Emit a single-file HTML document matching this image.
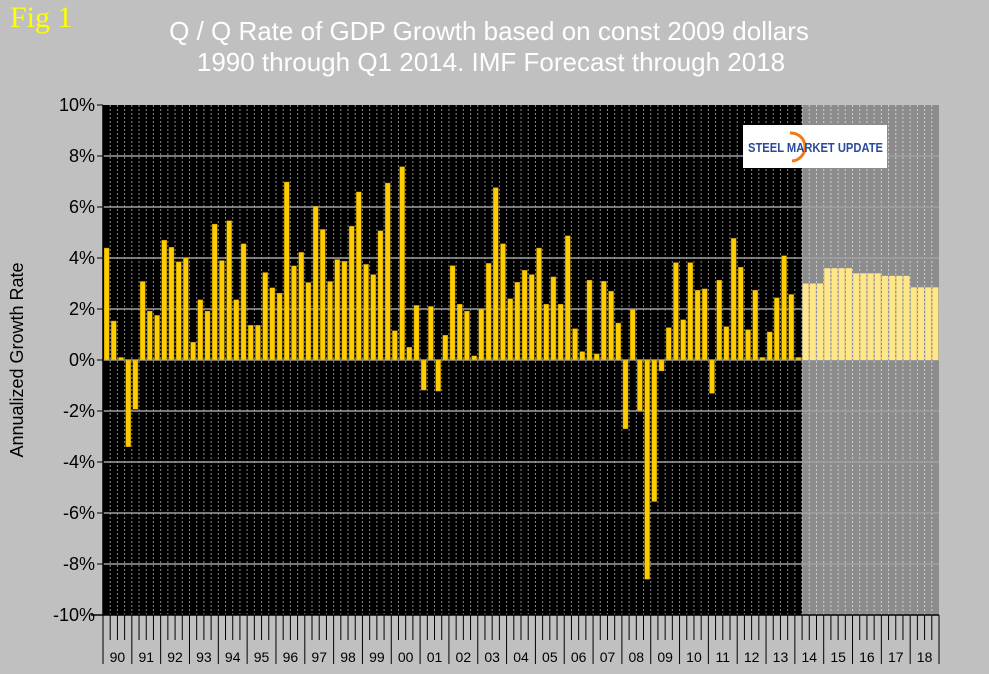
<!DOCTYPE html>
<html><head><meta charset="utf-8"><style>
body{margin:0;background:#c0c0c0;}
#wrap{position:relative;width:989px;height:674px;background:#c0c0c0;overflow:hidden;font-family:"Liberation Sans",sans-serif;}
</style></head><body>
<div id="wrap">
<svg id="svg" width="989" height="674" xmlns="http://www.w3.org/2000/svg">
<text x="10" y="27" font-family="Liberation Serif,serif" font-size="30" fill="#ffff00">Fig 1</text>
<text x="489" y="40" text-anchor="middle" font-size="26" fill="#ffffff">Q / Q Rate of GDP Growth based on const 2009 dollars</text>
<text x="491" y="71" text-anchor="middle" font-size="26" fill="#ffffff">1990 through Q1 2014. IMF Forecast through 2018</text>
<text transform="translate(23,360) rotate(-90)" text-anchor="middle" font-size="18" fill="#000">Annualized Growth Rate</text>
<g id="g"></g>
</svg>
</div>
<script>
const actual=[4.39,1.53,0.1,-3.4,-1.93,3.08,1.92,1.75,4.7,4.42,3.85,4.0,0.7,2.36,1.92,5.33,3.9,5.46,2.36,4.56,1.36,1.36,3.43,2.83,2.62,6.98,3.69,4.22,3.04,6.03,5.12,3.08,3.94,3.87,5.25,6.59,3.75,3.35,5.07,6.94,1.15,7.58,0.5,2.14,-1.18,2.1,-1.22,0.97,3.7,2.19,1.92,0.16,2.0,3.79,6.76,4.56,2.4,3.05,3.52,3.35,4.39,2.19,3.26,2.19,4.87,1.23,0.33,3.13,0.24,3.09,2.7,1.45,-2.7,1.98,-2.0,-8.6,-5.55,-0.43,1.27,3.82,1.58,3.82,2.74,2.79,-1.31,3.13,1.31,4.77,3.64,1.19,2.74,0.1,1.1,2.44,4.09,2.57,0.1];
const forecast=[3.0,3.0,3.0,3.6,3.6,3.6,3.6,3.4,3.4,3.4,3.4,3.3,3.3,3.3,3.3,2.85,2.85,2.85,2.85];
const yearLabels=["90","91","92","93","94","95","96","97","98","99","00","01","02","03","04","05","06","07","08","09","10","11","12","13","14","15","16","17","18"];
const yTicks=[10,8,6,4,2,0,-2,-4,-6,-8,-10];
const L=103,R=939,T=105,B=615,N=116,vmin=-10,vmax=10;
const qw=(R-L)/N;
const y=v=>T+(vmax-v)/(vmax-vmin)*(B-T);
const x=i=>L+i*qw;
const g=document.getElementById('g');
const NS='http://www.w3.org/2000/svg';
function mk(t,a,name){const e=document.createElementNS(NS,t);for(const k in a)e.setAttribute(k,a[k]);


g.appendChild(e);return e;}
const split=x(actual.length);
mk('rect',{x:L,y:T,width:split-L,height:B-T,fill:'#000'},'plot-area-actual');
mk('rect',{x:split,y:T,width:R-split,height:B-T,fill:'#8c8c8c'},'plot-area-forecast');
for(let i=1;i<N;i++){mk('line',{x1:x(i),x2:x(i),y1:T,y2:B,stroke:i<actual.length?'#8a8a8a':'#cfcfcf','stroke-width':1,'stroke-dasharray':'2,2'},'v-gridline');}
yTicks.forEach(v=>{
 if(v!==10&&v!==-10)mk('line',{x1:L,x2:R,y1:y(v),y2:y(v),stroke:'#a0a0a0','stroke-width':1.5},'h-gridline');
 mk('line',{x1:L-6,x2:L,y1:y(v),y2:y(v),stroke:'#000','stroke-width':1},'y-tick');
 const t=mk('text',{x:L-8,y:y(v)+6,'text-anchor':'end','font-size':18,fill:'#000'},'y-tick-label');t.textContent=v+'%';
});
const all=actual.concat(forecast);
all.forEach((v,i)=>{
 const f=i>=actual.length;const bw=f?6:5;
 const y0=y(0),yv=y(v);
 mk('rect',{x:x(i)+(qw-bw)/2,y:Math.min(y0,yv),width:bw,height:Math.max(1,Math.abs(yv-y0)),fill:f?'#ffe687':'#ffcc00',stroke:f?'none':'#b08c00','stroke-width':0.4},f?'forecast-bar':'actual-bar');
});
mk('line',{x1:L,x2:L,y1:T,y2:B,stroke:'#000','stroke-width':1.5},'y-axis-line');
mk('line',{x1:L-12,x2:R,y1:B,y2:B,stroke:'#000','stroke-width':1.5},'x-axis-line');
for(let i=0;i<=N;i++){
 const major=i%4===0;
 mk('line',{x1:x(i),x2:x(i),y1:B,y2:major?664:640,stroke:'#000','stroke-width':1},major?'year-separator':'quarter-tick');
}
yearLabels.forEach((s,k)=>{const t=mk('text',{x:x(k*4+2),y:662,'text-anchor':'middle','font-size':14,fill:'#000'},'x-tick-label');t.textContent=s;});
// logo
mk('rect',{x:743,y:125,width:144,height:43,fill:'#fff'},'logo-box');
mk('path',{d:'M790 133 A14 14 0 1 1 792 161',fill:'none',stroke:'#f07a1a','stroke-width':3},'logo-arc');
const lt=mk('text',{x:748,y:152,'font-size':13,'font-weight':'bold',fill:'#2a4a9a',textLength:135,lengthAdjust:'spacingAndGlyphs'},'logo-text');lt.textContent='STEEL MARKET UPDATE';
</script>
</body></html>
